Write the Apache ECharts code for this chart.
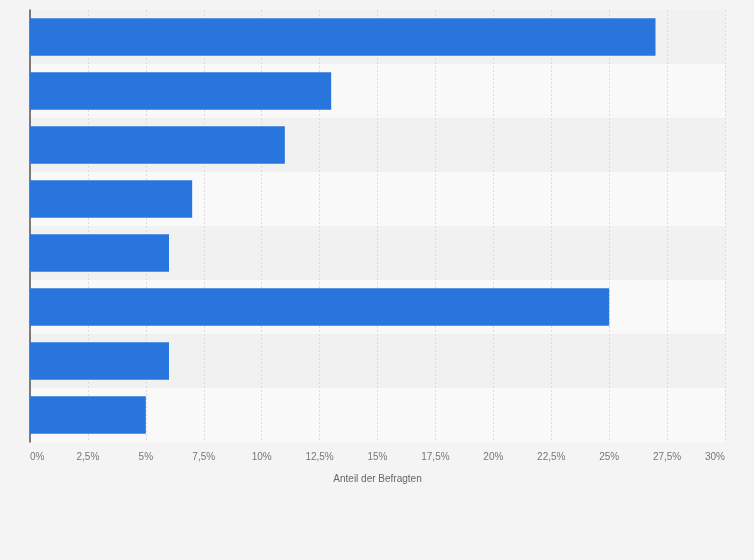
<!DOCTYPE html>
<html>
<head>
<meta charset="utf-8">
<script src="https://cdn.jsdelivr.net/npm/echarts@6/dist/echarts.min.js"></script>
<style>
  html, body { margin: 0; padding: 0; background: #f4f4f4; }
  #chart { width: 754px; height: 560px; }
</style>
</head>
<body>
<div id="chart"></div>
<script>
// Kategorien sind im Bild nicht beschriftet
var categories = ['A', 'B', 'C', 'D', 'E', 'F', 'G', 'H'];
var values = [27, 13, 11, 7, 6, 25, 6, 5];
var axisName = 'Anteil der Befragten';

var chart = echarts.init(document.getElementById('chart'));
chart.setOption({
    backgroundColor: '#f4f4f4',
    textStyle: { fontFamily: 'Arial, "Liberation Sans", sans-serif' },
    grid: { left: 30, right: 29, top: 10, bottom: 118 },
    xAxis: {
        type: 'value',
        min: 0,
        max: 30,
        interval: 2.5,
        name: axisName,
        nameLocation: 'middle',
        nameGap: 32,
        nameTextStyle: { color: '#666', fontSize: 10 },
        axisLine: { show: false },
        axisTick: { show: false },
        axisLabel: {
            color: '#777',
            fontSize: 10,
            margin: 10,
            alignMinLabel: 'left',
            alignMaxLabel: 'right',
            formatter: function (v) { return String(v).replace('.', ',') + '%'; }
        },
        splitLine: { show: true, lineStyle: { color: '#dcdcdc', type: [2, 2], width: 1 } }
    },
    yAxis: {
        type: 'category',
        data: categories,
        inverse: true,
        axisLine: { show: true, lineStyle: { color: '#555', width: 1.5 } },
        axisTick: { show: false },
        axisLabel: { show: false },
        splitArea: { show: true, areaStyle: { color: ['#f1f1f1', '#f9f9f9'] } }
    },
    series: [{
        type: 'bar',
        data: values,
        barCategoryGap: '31%',
        itemStyle: { color: '#2876dd' },
        silent: true
    }],
    animation: false
});
</script>
</body>
</html>
